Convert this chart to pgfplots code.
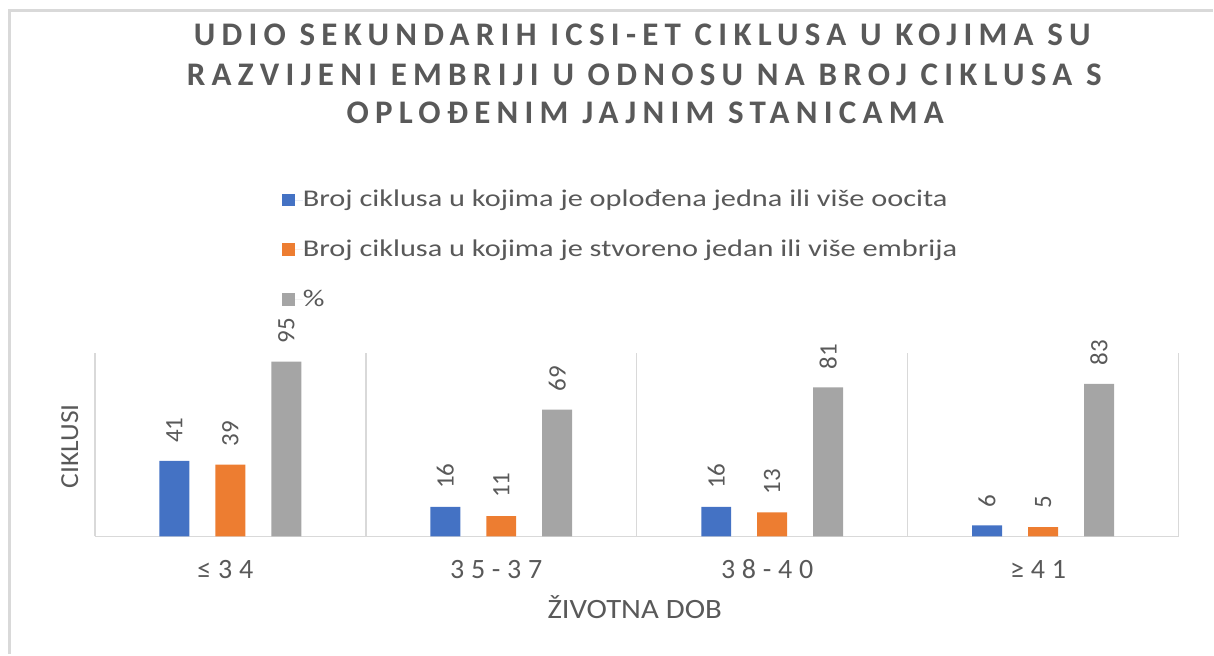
\documentclass[border=0pt]{standalone}
\usepackage{fontspec}
\setmainfont{Carlito}
\newfontfamily\titlespaced[LetterSpace=19]{Carlito}
\newfontfamily\tickspaced[LetterSpace=24]{Carlito}
\usepackage{graphicx}
\usepackage{pgfplots}
\pgfplotsset{compat=1.18}
\newcommand{\hs}[2]{\scalebox{#1}[1]{#2}}
\definecolor{cblue}{HTML}{4472C4}
\definecolor{corange}{HTML}{ED7D31}
\definecolor{cgrey}{HTML}{A5A5A5}
\definecolor{txt}{HTML}{595959}
\definecolor{gridc}{HTML}{D9D9D9}
\pgfplotstableread{
x a b c
0 41 39 95
1 16 11 69
2 16 13 81
3 6 5 83
}\data
\begin{document}
\begin{tikzpicture}[x=1bp,y=1bp]
\path (0,0) rectangle (1214,655);
\draw[gridc, line width=3bp] (9.5,0) -- (9.5,644.5) -- (1214,644.5);
\node[txt, font=\titlespaced\bfseries\fontsize{33bp}{38bp}\selectfont] at (643,620) {UDIO SEKUNDARIH ICSI-ET CIKLUSA U KOJIMA SU};
\node[txt, font=\titlespaced\bfseries\fontsize{33bp}{38bp}\selectfont] at (645,580) {RAZVIJENI EMBRIJI U ODNOSU NA BROJ CIKLUSA S};
\node[txt, font=\titlespaced\bfseries\fontsize{33bp}{38bp}\selectfont] at (646,542) {OPLOĐENIM JAJNIM STANICAMA};
\begin{axis}[
  at={(95bp,118bp)}, anchor=south west,
  width=1085bp, height=184bp, scale only axis,
  xmin=-0.5, xmax=3.5, ymin=0, ymax=100,
  axis x line*=bottom, axis y line=none,
  x axis line style={gridc, line width=1.5bp, -},
  xtick={0,1,2,3},
  xticklabels={≤34, 35-37, 38-40, ≥41},
  major tick length=0,
  xticklabel style={anchor=center, yshift=-33bp, xshift=-5bp, txt, font=\tickspaced\fontsize{28bp}{32bp}\selectfont},
  extra x ticks={-0.5,0.5,1.5,2.5,3.5},
  extra x tick labels={},
  extra x tick style={grid=major, major grid style={gridc, line width=1.5bp}, major tick length=0},
  ytick=\empty,
  ybar=26bp, bar width=30bp,
  clip=false,
  /pgf/number format/assume math mode=true,
  nodes near coords,
  every node near coord/.append style={rotate=90, anchor=west, txt, font=\fontsize{25bp}{29bp}\selectfont, inner sep=0pt, xshift=18bp},
  xlabel={\hs{1.1}{ŽIVOTNA DOB}},
  xlabel style={at={(axis description cs:0.5,0)}, anchor=center, yshift=-71bp, xshift=-2bp, txt, font=\fontsize{28bp}{32bp}\selectfont},
  legend style={draw=none, inner sep=0pt, at={(0.1724,1.910)}, anchor=north west, font=\fontsize{24bp}{28bp}\selectfont, text=txt,
    nodes={inner sep=0pt, text height=21bp, text depth=8bp}, row sep=21bp, legend cell align=left},
  legend image code/.code={\path[#1, draw=none] (0bp,-6.5bp) rectangle (13bp,6.5bp); \path (13bp,0bp) -- (21bp,0bp);},
]
\addplot[fill=cblue, draw=none] table[x=x, y=a] {\data};
\addlegendentry{\hs{1.265}{Broj ciklusa u kojima je oplođena jedna ili više oocita}}
\addplot[fill=corange, draw=none] table[x=x, y=b] {\data};
\addlegendentry{\hs{1.265}{Broj ciklusa u kojima je stvoreno jedan ili više embrija}}
\addplot[fill=cgrey, draw=none] table[x=x, y=c] {\data};
\addlegendentry{\hs{1.265}{\%}}
\end{axis}
\node[txt, rotate=90, font=\fontsize{26bp}{30bp}\selectfont] at (70,208) {\hs{1.06}{CIKLUSI}};
\end{tikzpicture}
\end{document}
